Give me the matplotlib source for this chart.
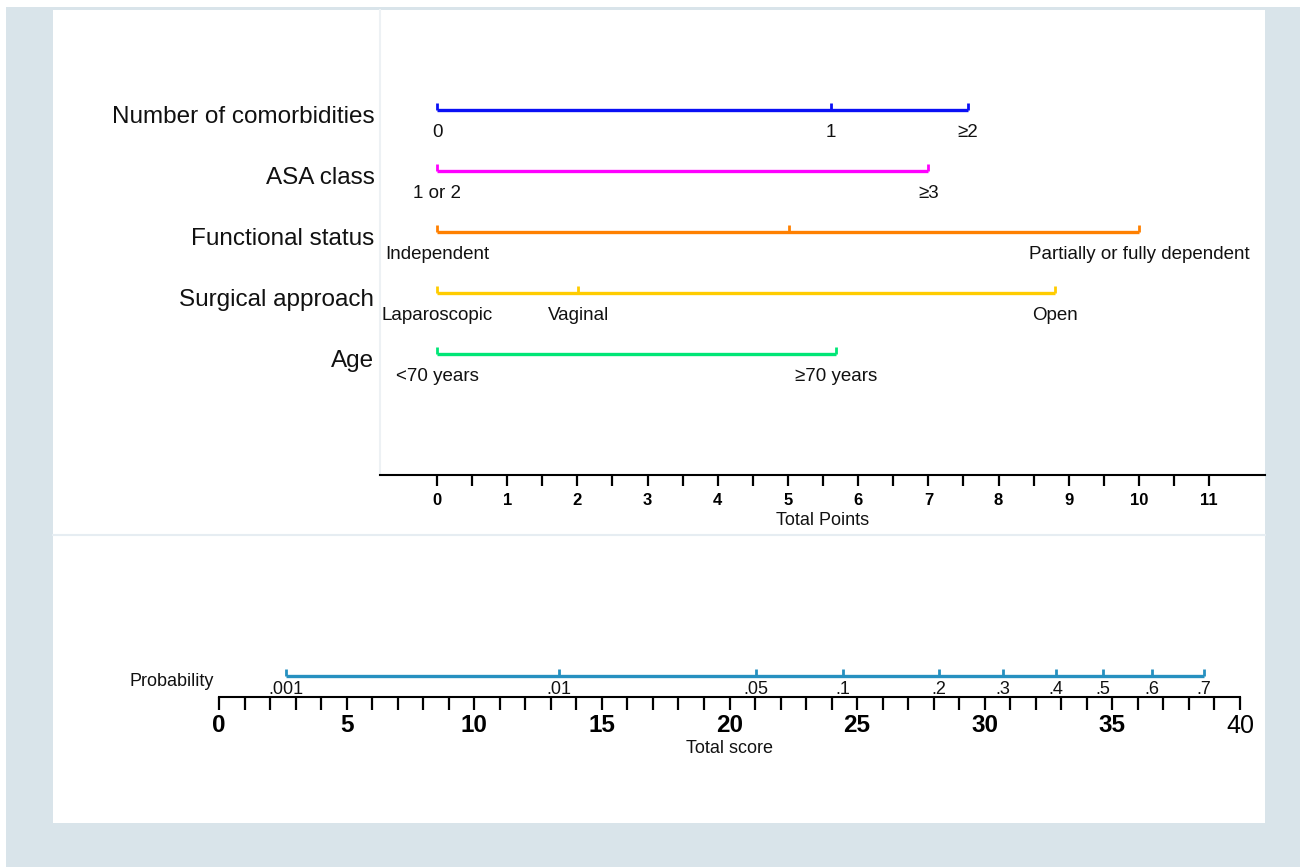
import numpy as np
import matplotlib.pyplot as plt
import matplotlib.transforms as mtrans
from matplotlib.patches import Rectangle
from matplotlib.lines import Line2D

plt.rcParams['font.family'] = ['Liberation Sans', 'DejaVu Sans']

# nomogram rows (points scale 0..11)
rows = ['Number of comorbidities', 'ASA class', 'Functional status',
        'Surgical approach', 'Age']
row_points = [[0, 5.61, 7.56],
              [0, 7.0],
              [0, 5.01, 10.0],
              [0, 2.01, 8.8],
              [0, 5.68]]
row_levels = [['0', '1', '≥2'],
              ['1 or 2', '≥3'],
              ['Independent', '', 'Partially or fully dependent'],
              ['Laparoscopic', 'Vaginal', 'Open'],
              ['<70 years', '≥70 years']]
row_colors = ['#0a10f5', '#ff00ff', '#ff8000', '#ffcc00', '#00e676']
points_ticks = np.arange(0, 12)

# probability scale (total score 0..40)
prob_labels = ['.001', '.01', '.05', '.1', '.2', '.3', '.4', '.5', '.6', '.7']
prob_score = [2.62, 13.32, 21.04, 24.45, 28.21, 30.72, 32.79, 34.63, 36.55, 38.59]
score_ticks = np.arange(0, 41, 5)

W, H = 1300, 867
fig = plt.figure(figsize=(13, 8.67), dpi=100, facecolor='#d9e4ea')


def box(x0, y0, x1, y1):
    # pixel box -> figure fraction rect
    return [x0 / W, 1 - y1 / H, (x1 - x0) / W, (y1 - y0) / H]


# white strips at top/left edge, white panel
for r in [box(0, 0, W, 7), box(0, 0, 6, H), box(53, 10, 1265, 823)]:
    fig.patches.append(Rectangle(r[:2], r[2], r[3], transform=fig.transFigure,
                                 facecolor='white', edgecolor='none', zorder=-2))
fig.lines.append(Line2D([53 / W, 1265 / W], [1 - 535 / H, 1 - 535 / H],
                        transform=fig.transFigure, color='#e6edf2', lw=1.5,
                        zorder=-1))

# ---- top: points nomogram ----
ax = fig.add_axes(box(380, 10, 1265, 475))
ax.set_facecolor('none')
ax.set_xlim(-0.812, 11.795)
ax.set_ylim(5.98, -1.64)
for s in ['top', 'right']:
    ax.spines[s].set_visible(False)
ax.spines['left'].set_color('#edf1f4')
ax.spines['left'].set_linewidth(1.5)
ax.spines['bottom'].set_linewidth(1.5)

cap = 0.12
for i, (pts, levs, c) in enumerate(zip(row_points, row_levels, row_colors)):
    ax.plot([pts[0], pts[-1]], [i, i], color=c, lw=2.4, solid_capstyle='butt')
    ax.vlines(pts, i - cap, i, color=c, lw=2)
    for p, lab in zip(pts, levs):
        ax.text(p, i + 0.37, lab, ha='center', va='center', fontsize=13.5,
                color='#111111')

ax.set_yticks(range(len(rows)))
ax.set_yticklabels(rows, fontsize=17.5, color='#111111')
ax.tick_params(axis='y', length=0, pad=4)
shift = mtrans.ScaledTranslation(0, -4 / 100, fig.dpi_scale_trans)
for t in ax.get_yticklabels():
    t.set_transform(t.get_transform() + shift)

ax.set_xticks(points_ticks)
ax.set_xticks(points_ticks[:-1] + 0.5, minor=True)
ax.set_xticklabels([str(t) for t in points_ticks], fontsize=12, fontweight='bold')
ax.tick_params(axis='x', which='both', direction='out', length=8, width=1.6, pad=5)
ax.xaxis.get_major_ticks()[-1].tick1line.set_color('#888888')
ax.set_xlabel('Total Points', fontsize=13, labelpad=3, color='#111111')

# ---- bottom: total score and probability ----
bx = fig.add_axes(box(219, 600, 1240, 697))
bx.set_facecolor('none')
bx.set_xlim(0, 40)
bx.set_ylim(0, 1)
for s in ['top', 'right', 'left']:
    bx.spines[s].set_visible(False)
bx.spines['bottom'].set_linewidth(1.5)
bx.set_yticks([])
bx.set_xticks(score_ticks)
bx.set_xticks(np.arange(0, 41), minor=True)
labs = bx.set_xticklabels([str(t) for t in score_ticks], fontsize=17.5)
for t in labs[:-1]:
    t.set_fontweight('bold')
labs[-1].set_fontsize(18)
bx.tick_params(axis='x', which='both', direction='out', length=9, width=1.6, pad=3)
bx.set_xlabel('Total score', fontsize=13, labelpad=2, color='#111111')

py = 21 / 97
pc = '#2690c0'
bx.plot([prob_score[0], prob_score[-1]], [py, py], color=pc, lw=2.4,
        solid_capstyle='butt')
bx.vlines(prob_score, py, py + 7 / 97, color=pc, lw=2)
for s, lab in zip(prob_score, prob_labels):
    bx.text(s, py - 14 / 97, lab, ha='center', va='center', fontsize=13,
            color='#111111')
bx.text(-0.2, py - 5 / 97, 'Probability', ha='right', va='center', fontsize=13,
        color='#111111', clip_on=False)

fig.savefig('out.png', dpi=100, facecolor=fig.get_facecolor())
